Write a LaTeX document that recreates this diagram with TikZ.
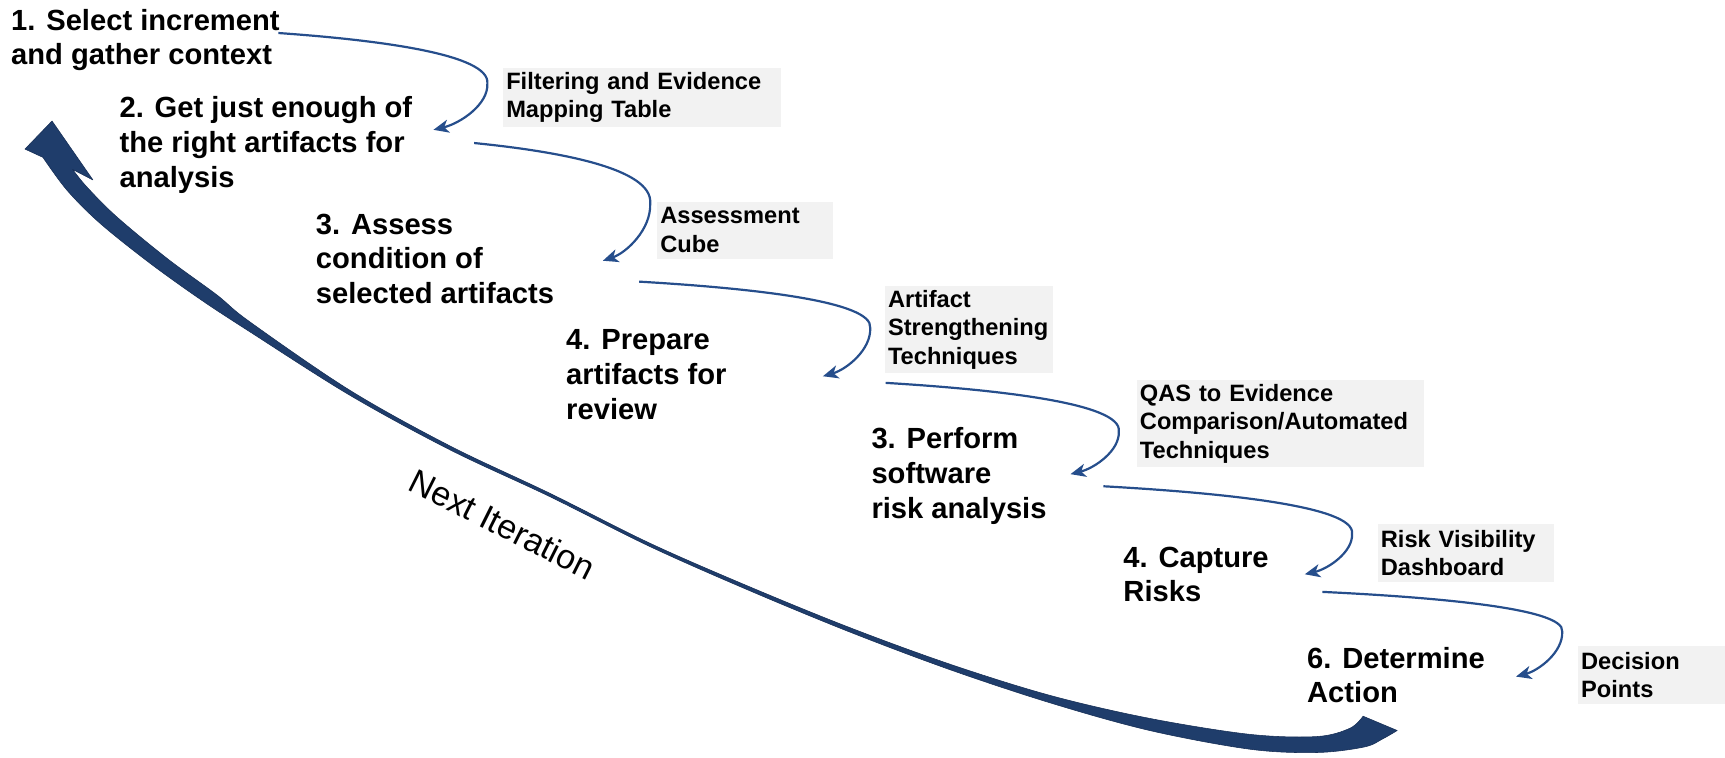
\documentclass[tikz,border=0pt]{standalone}
\usepackage{fontspec}
\setmainfont{Liberation Sans}
\usetikzlibrary{arrows.meta}
\definecolor{thinblue}{RGB}{38,78,140}
\definecolor{bigfill}{RGB}{31,61,107}
\definecolor{bigedge}{RGB}{22,46,85}
\definecolor{boxgray}{RGB}{242,242,242}
\begin{document}
\begin{tikzpicture}[x=1pt,y=-1pt,
  lbl/.style={anchor=base west, align=left, inner sep=0pt,
    font=\fontsize{26.5}{31.5}\selectfont\bfseries},
  tag/.style={anchor=north west, fill=boxgray, align=left, inner xsep=3pt, inner ysep=0pt,
    font=\fontsize{21.5}{26}\selectfont\bfseries},
  flow/.style={draw=thinblue, line width=2pt, -{Stealth[length=14pt,width=12pt,inset=4pt]}},
  bigarrow/.style={fill=bigfill, draw=bigedge, line width=0.5pt, line join=round}]
\useasboundingbox (0,0) rectangle (1568,689);

% big "Next Iteration" arrow
\filldraw[bigarrow]
 plot[smooth, tension=0.55] coordinates {(39,143) (61,173) (91,203) (136,239) (182,272) (227,301.5) (318,359.25) (409,408.85) (500,451.5) (591,496.9) (682,537.15) (773,574.7) (864,608.9) (955,639) (1045,664) (1136,681) (1197,684) (1240,679) (1257,671.5) (1270,664)}
 -- plot[smooth, tension=0.55] coordinates {(1239,651) (1227,662) (1197,669.5) (1136,667.5) (1045,653) (955,632.25) (864,603.9) (773,570.7) (682,533.65) (591,493.9) (500,448.5) (409,405.35) (318,354.75) (227,292.5) (197,268) (152,235) (106,197) (79,170) (66,154)}
 -- (84.5,163.6) -- (47.3,110) -- (22.7,135.5) -- cycle;
\node[font=\fontsize{31}{37}\selectfont, rotate=-26.6, anchor=base, inner sep=0pt] (ni) at (451.5,486.4) {Next Iteration};

% step labels (anchored at the baseline of their last line)
\node[lbl] (n1) at (10,59) {1. Select increment\\and gather context};
\node[lbl] (n2) at (108.5,170) {2. Get just enough of\\the right artifacts for\\analysis};
\node[lbl] (n3) at (287,276) {3. Assess\\condition of\\selected artifacts};
\node[lbl] (n4) at (514.5,381) {4. Prepare\\artifacts for\\review};
\node[lbl] (n5) at (792,471) {3. Perform\\software\\risk analysis};
\node[lbl] (n6) at (1021,547) {4. Capture\\Risks};
\node[lbl] (n7) at (1188,639) {6. Determine\\Action};

% technique tags
\node[tag, minimum width=253, minimum height=53, text width=247] (t1) at (457,62) {Filtering and Evidence\\Mapping Table};
\node[tag, minimum width=160, minimum height=52, text width=154] (t2) at (597,183) {Assessment\\Cube};
\node[tag, minimum width=153, minimum height=79, text width=147] (t3) at (804,260) {Artifact\\Strengthening\\Techniques};
\node[tag, minimum width=261, minimum height=79, text width=255] (t4) at (1033,345.5) {QAS to Evidence\\Comparison/Automated\\Techniques};
\node[tag, minimum width=160, minimum height=53, text width=154] (t5) at (1252,476) {Risk Visibility\\Dashboard};
\node[tag, minimum width=134, minimum height=53, text width=128] (t6) at (1434,587) {Decision\\Points};

% connector ends
\coordinate (s1) at (253,30);   \coordinate (r1) at (443,76);   \coordinate (e1) at (394,118);
\coordinate (s2) at (431,130);  \coordinate (r2) at (591,185);  \coordinate (e2) at (548,237);
\coordinate (s3) at (581,256);  \coordinate (r3) at (791,298);  \coordinate (e3) at (748,342);
\coordinate (s4) at (805,348);  \coordinate (r4) at (1017,392); \coordinate (e4) at (973,431);
\coordinate (s5) at (1003,442); \coordinate (r5) at (1229,485); \coordinate (e5) at (1186,522);
\coordinate (s6) at (1202,538); \coordinate (r6) at (1420,574); \coordinate (e6) at (1378,615);

\draw[flow] (s1) .. controls (344,36.4) and (446,49.3) .. (r1) .. controls (444,94.9) and (418.5,112.1) .. (e1);
\draw[flow] (s2) .. controls (507.8,137.7) and (594,153.1) .. (r2) .. controls (592,208.4) and (569.5,229.7) .. (e2);
\draw[flow] (s3) .. controls (681.8,261.9) and (794,273.6) .. (r3) .. controls (792,317.8) and (769.5,335.8) .. (e3);
\draw[flow] (s4) .. controls (906.8,354.2) and (1020,366.5) .. (r4) .. controls (1018,409.6) and (995,425.5) .. (e4);
\draw[flow] (s5) .. controls (1111,448) and (1232,460) .. (r5) .. controls (1230,501.6) and (1207.5,517) .. (e5);
\draw[flow] (s6) .. controls (1306.6,543) and (1423,553.1) .. (r6) .. controls (1421,592.5) and (1399,609.3) .. (e6);
\end{tikzpicture}
\end{document}
